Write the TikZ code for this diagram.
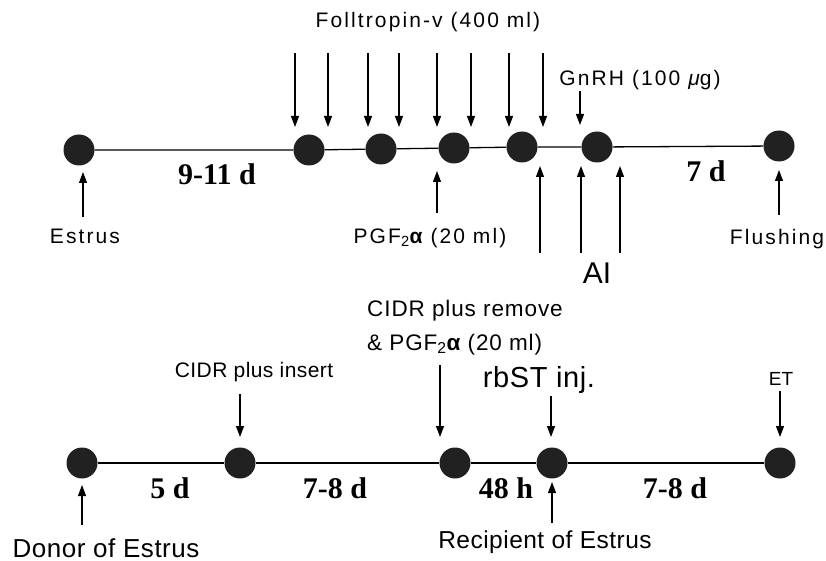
\documentclass[tikz,border=0pt]{standalone}
\usepackage{fontspec}
\setmainfont{Liberation Sans}
\newfontfamily\durfont{Liberation Serif}
\newfontfamily\spfont[LetterSpace=10]{Liberation Sans}
\newfontfamily\spfontb[LetterSpace=4]{Liberation Sans}
\newfontfamily\spfontc[LetterSpace=2]{Liberation Sans}
\usetikzlibrary{arrows.meta}
\begin{document}
\begin{tikzpicture}[x=1pt,y=-1pt,
  dot/.style={circle,fill=black!87,minimum size=31pt,inner sep=0pt},
  toplbl/.style={inner sep=0pt,anchor=base,font=\spfont\fontsize{21}{24}\selectfont},
  botlbl/.style={inner sep=0pt,anchor=base,font=\spfontb\fontsize{22.5}{26}\selectfont},
  biglbl/.style={inner sep=0pt,anchor=base,font=\spfontc\fontsize{26}{28}\selectfont},
  dur/.style={inner sep=0pt,anchor=base,font=\durfont\bfseries\fontsize{30}{34}\selectfont},
  arr/.style={-{Triangle[length=11pt,width=8pt]},line width=1.1pt},
  tline/.style={line width=1.3pt}]
\useasboundingbox (0,0) rectangle (826,561);

% ---------- top timeline ----------
\node[dot] (t1) at (79,150) {};
\node[dot] (t2) at (309,150) {};
\node[dot] (t3) at (381,149) {};
\node[dot] (t4) at (454,148) {};
\node[dot] (t5) at (522,147) {};
\node[dot] (t6) at (597,147) {};
\node[dot] (t7) at (779,146) {};
\draw[tline] (t1) -- (t2) -- (t3) -- (t4) -- (t5) -- (t6) -- (t7);

\node[dur] (d911) at (217,185) {9-11 d};
\node[dur] (d7) at (706,182) {7 d};

\node[toplbl] (foll) at (428,28) {Folltropin-v (400 ml)};
\foreach \i/\x in {1/295,2/328,3/368,4/399,5/437,6/471,7/509,8/543}{
  \coordinate (fs\i) at (\x,53);
  \coordinate (fe\i) at (\x,127);
  \draw[arr] (fs\i) -- (fe\i);
}
\node[toplbl] (gnrh) at (640,86) {GnRH (100 {\itshape μ}g)};
\coordinate (gs) at (580,91);
\coordinate (ge) at (580,125);
\draw[arr] (gs) -- (ge);

\node[toplbl] (estrus) at (85,243) {Estrus};
\coordinate (es) at (83,217);
\coordinate (ee) at (83,172);
\draw[arr] (es) -- (ee);

\node[toplbl] (pgf) at (430,243) {PGF\textsubscript{2}{\bfseries α} (20 ml)};
\coordinate (ps) at (437,213);
\coordinate (pe) at (437,171);
\draw[arr] (ps) -- (pe);

\node[toplbl] (flush) at (777,244) {Flushing};
\coordinate (fls) at (779,215);
\coordinate (fle) at (779,170);
\draw[arr] (fls) -- (fle);

\node[inner sep=0pt,anchor=base,font=\fontsize{30}{34}\selectfont] (ai) at (597,283) {AI};
\foreach \i/\x in {1/540,2/581,3/620}{
  \coordinate (as\i) at (\x,253);
  \coordinate (ae\i) at (\x,166);
  \draw[arr] (as\i) -- (ae\i);
}

% ---------- bottom timeline ----------
\node[dot] (b1) at (82,463) {};
\node[dot] (b2) at (240,463) {};
\node[dot] (b3) at (455,463) {};
\node[dot] (b4) at (552,463) {};
\node[dot] (b5) at (780,463) {};
\draw[tline] (b1) -- (b2) -- (b3) -- (b4) -- (b5);

\node[dur] (d5) at (170,498) {5 d};
\node[dur] (d78a) at (335,498) {7-8 d};
\node[dur] (d48) at (506,498) {48 h};
\node[dur] (d78b) at (675,498) {7-8 d};

\node[inner sep=0pt,anchor=base,font=\spfontc\fontsize{21}{24}\selectfont] (cins) at (254,377) {CIDR plus insert};
\coordinate (cis) at (240,394);
\coordinate (cie) at (240,437);
\draw[arr] (cis) -- (cie);

\node[botlbl,anchor=base west] (crem) at (367,316) {CIDR plus remove};
\node[botlbl,anchor=base west] (cpgf) at (367,350) {\& PGF\textsubscript{2}{\bfseries α} (20 ml)};
\coordinate (crs) at (440,365);
\coordinate (cre) at (440,437);
\draw[arr] (crs) -- (cre);

\node[inner sep=0pt,anchor=base,font=\spfontc\fontsize{29}{32}\selectfont] (rbst) at (539,387) {rbST inj.};
\coordinate (rs) at (551,396);
\coordinate (re) at (551,437);
\draw[arr] (rs) -- (re);

\node[inner sep=0pt,anchor=base,font=\fontsize{19}{22}\selectfont] (et) at (781,385) {ET};
\coordinate (ets) at (780,391);
\coordinate (ete) at (780,437);
\draw[arr] (ets) -- (ete);

\node[biglbl] (donor) at (106,557) {Donor of Estrus};
\coordinate (ds) at (82,525);
\coordinate (de) at (82,485);
\draw[arr] (ds) -- (de);

\node[biglbl,font=\spfontc\fontsize{24.5}{27}\selectfont] (recip) at (545,548) {Recipient of Estrus};
\coordinate (rcs) at (552,523);
\coordinate (rce) at (552,482);
\draw[arr] (rcs) -- (rce);
\end{tikzpicture}
\end{document}
